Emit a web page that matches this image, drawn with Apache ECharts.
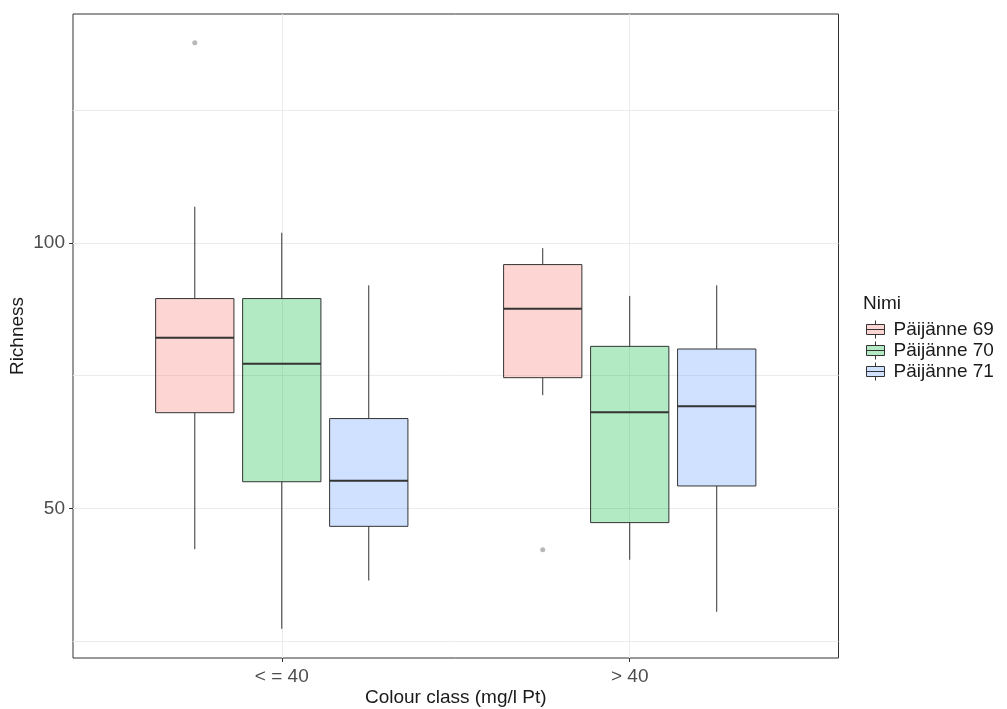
<!DOCTYPE html>
<html>
<head>
<meta charset="utf-8">
<script src="https://cdn.jsdelivr.net/npm/echarts@6/dist/echarts.min.js"></script>
<style>
  html, body { margin: 0; padding: 0; background: #fff; }
  #chart { width: 1007px; height: 709px; }
</style>
</head>
<body>
<div id="chart"></div>
<script>
// Colour classes on the x axis
const categories = ['< = 40', '> 40'];
// Sampling sites (legend groups)
const groups = ['Päijänne 69', 'Päijänne 70', 'Päijänne 71'];
// Box statistics per group: [lower whisker, Q1, median, Q3, upper whisker], one row per colour class
const p69 = [[42.3, 68.0, 82.1, 89.5, 106.8], [71.3, 74.6, 87.6, 95.9, 99.0]];
const p70 = [[27.3, 55.0, 77.2, 89.5, 101.9], [40.3, 47.3, 68.1, 80.5, 90.0]];
const p71 = [[36.4, 46.6, 55.2, 66.9, 92.0], [30.5, 54.2, 69.2, 80.0, 92.0]];
// Outliers: [category index, group index, value]
const outliers = [[0, 0, 137.7], [1, 0, 42.2]];
// Y axis labelled ticks and grid lines
const yTicks = [50, 100];
const yGrid = [25, 50, 75, 100, 125];

const fills = ['rgba(248,118,109,0.3)', 'rgba(0,186,56,0.3)', 'rgba(97,156,255,0.3)'];
const legendFills = ['#fdd6d3', '#b3eac3', '#d0e1ff'];
const stats = [p69, p70, p71];
const dodge = 0.25;     // distance between neighbouring boxes
const boxW = 0.225;     // box width in x units
const edge = '#333333';

function boxSeries(gi) {
  const data = stats[gi].map((s, ci) => [ci + 1 + (gi - 1) * dodge].concat(s));
  return {
    name: groups[gi],
    type: 'custom',
    z: 3,
    itemStyle: { color: fills[gi], borderColor: edge, borderWidth: 1 },
    encode: { x: 0, y: [1, 2, 3, 4, 5] },
    data: data,
    renderItem: function (params, api) {
      const x = api.value(0);
      const lo = api.coord([x, api.value(1)]);
      const q1 = api.coord([x, api.value(2)]);
      const med = api.coord([x, api.value(3)]);
      const q3 = api.coord([x, api.value(4)]);
      const hi = api.coord([x, api.value(5)]);
      const left = api.coord([x - boxW / 2, 0])[0];
      const right = api.coord([x + boxW / 2, 0])[0];
      const cx = lo[0];
      const line = { stroke: edge, lineWidth: 1 };
      return {
        type: 'group',
        children: [
          { type: 'line', shape: { x1: cx, y1: hi[1], x2: cx, y2: q3[1] }, style: line },
          { type: 'line', shape: { x1: cx, y1: q1[1], x2: cx, y2: lo[1] }, style: line },
          { type: 'rect', shape: { x: left, y: q3[1], width: right - left, height: q1[1] - q3[1] },
            style: { fill: fills[gi], stroke: edge, lineWidth: 1 } },
          { type: 'line', shape: { x1: left, y1: med[1], x2: right, y2: med[1] },
            style: { stroke: edge, lineWidth: 2 } }
        ]
      };
    }
  };
}

const series = [0, 1, 2].map(boxSeries);

// Outlier points plus the panel grid lines
series.push({
  type: 'scatter',
  z: 2,
  symbolSize: 5,
  itemStyle: { color: 'rgba(0,0,0,0.35)' },
  data: outliers.map(o => [o[0] + 1 + (o[1] - 1) * dodge, o[2]]),
  markLine: {
    silent: true,
    symbol: ['none', 'none'],
    label: { show: false },
    lineStyle: { color: '#ebebeb', width: 1, type: 'solid' },
    z: 0,
    data: yGrid.map(v => ({ yAxis: v })).concat([{ xAxis: 1 }, { xAxis: 2 }])
  }
});

const legendIcon = 'path://M9,0L9,4M9,14L9,18M0,4L18,4L18,14L0,14ZM0,9L18,9';

const option = {
  animation: false,
  backgroundColor: '#ffffff',
  textStyle: { fontFamily: 'Liberation Sans, Arial, sans-serif' },
  title: {
    text: 'Nimi',
    left: 858,
    top: 289,
    textStyle: { fontSize: 19, fontWeight: 'normal', color: '#1a1a1a', fontFamily: 'Liberation Sans, Arial, sans-serif' }
  },
  legend: {
    orient: 'vertical',
    left: 861,
    top: 315,
    itemWidth: 18,
    itemHeight: 18,
    itemGap: 2,
    icon: legendIcon,
    textStyle: { fontSize: 19, color: '#1a1a1a', padding: [0, 0, 0, 4] },
    data: groups.map((g, i) => ({
      name: g,
      itemStyle: { color: legendFills[i], borderColor: edge, borderWidth: 1 }
    }))
  },
  grid: {
    left: 73,
    top: 14,
    right: 168.5,
    bottom: 51,
    outerBoundsMode: 'none',
    containLabel: false,
    show: true,
    borderColor: '#333333',
    borderWidth: 1,
    backgroundColor: 'transparent'
  },
  xAxis: {
    type: 'value',
    min: 0.4,
    max: 2.6,
    name: 'Colour class (mg/l Pt)',
    nameLocation: 'middle',
    nameGap: 30,
    nameMoveOverlap: false,
    nameTextStyle: { fontSize: 19, color: '#1a1a1a' },
    axisLine: { show: false },
    axisTick: { show: true, customValues: [1, 2], length: 4, lineStyle: { color: '#333333' } },
    axisLabel: {
      customValues: [1, 2],
      formatter: v => categories[Math.round(v) - 1],
      fontSize: 19,
      color: '#4d4d4d',
      margin: 9
    },
    splitLine: { show: false }
  },
  yAxis: {
    type: 'value',
    min: 21.8,
    max: 143.1,
    name: 'Richness',
    nameLocation: 'middle',
    nameRotate: 90,
    nameGap: 46,
    nameMoveOverlap: false,
    nameTextStyle: { fontSize: 19, color: '#1a1a1a' },
    axisLine: { show: false },
    axisTick: { show: true, customValues: yTicks, length: 4, lineStyle: { color: '#333333' } },
    axisLabel: { customValues: yTicks, fontSize: 19, color: '#4d4d4d', margin: 8 },
    splitLine: { show: false }
  },
  series: series
};

const chart = echarts.init(document.getElementById('chart'), null, { renderer: 'canvas' });
chart.setOption(option);
</script>
</body>
</html>
